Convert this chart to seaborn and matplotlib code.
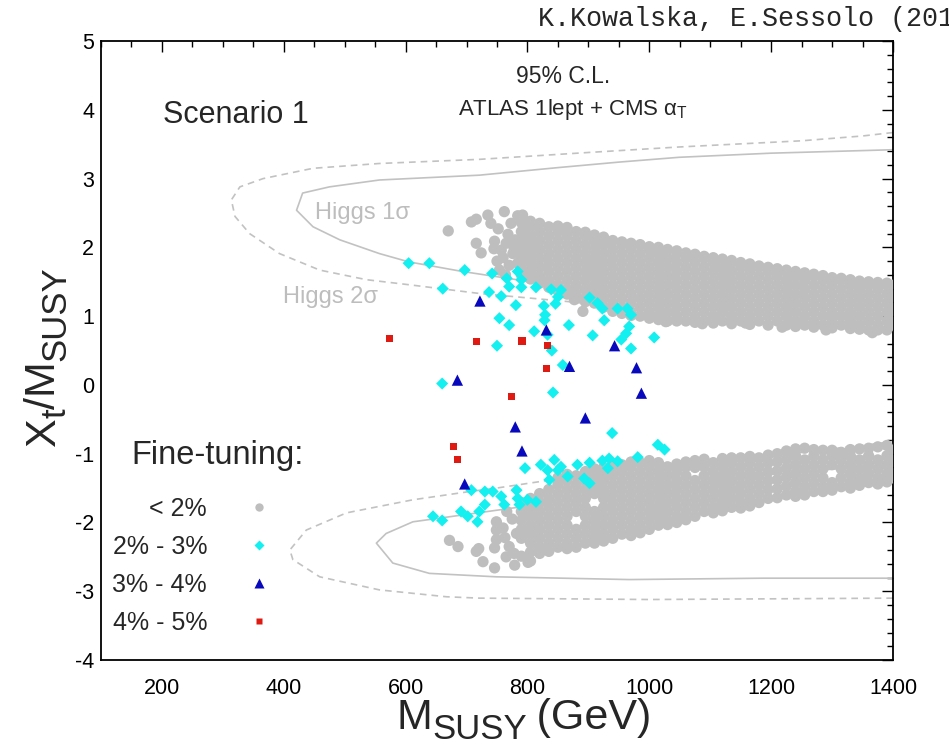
import matplotlib
matplotlib.use("Agg")
import matplotlib.pyplot as plt
import numpy as np
import pandas as pd
import seaborn as sns
from matplotlib.lines import Line2D
from matplotlib.ticker import MultipleLocator

# ---------------------------------------------------------------- data
categories = ["< 2%", "2% - 3%", "3% - 4%", "4% - 5%"]

# fine-tuning < 2 %: dense upper band (x -> list of Xt/M values)
band_upper = {
    790: [2.42, 2.36, 2.23, 2.10, 1.97, 1.84, 1.71, 1.60],
    805: [2.38, 2.30, 2.17, 2.04, 1.91, 1.78, 1.65, 1.54],
    820: [2.35, 2.23, 2.10, 1.97, 1.84, 1.71, 1.58, 1.48],
    835: [2.30, 2.17, 2.04, 1.91, 1.78, 1.65, 1.52, 1.42],
    850: [2.31, 2.23, 2.10, 1.97, 1.84, 1.71, 1.58, 1.45, 1.37],
    865: [2.29, 2.17, 2.04, 1.91, 1.78, 1.65, 1.52, 1.39, 1.32],
    880: [2.23, 2.10, 1.97, 1.84, 1.71, 1.58, 1.45, 1.32, 1.27],
    895: [2.22, 2.17, 2.04, 1.91, 1.78, 1.65, 1.52, 1.39, 1.26, 1.21],
    910: [2.18, 2.10, 1.97, 1.84, 1.71, 1.58, 1.45, 1.32, 1.19],
    925: [2.15, 2.04, 1.91, 1.78, 1.65, 1.52, 1.39, 1.26, 1.13],
    940: [2.10, 1.97, 1.84, 1.71, 1.58, 1.45, 1.32, 1.19, 1.07],
    955: [2.08, 2.04, 1.91, 1.78, 1.65, 1.52, 1.39, 1.26, 1.13, 1.04],
    970: [2.06, 1.97, 1.84, 1.71, 1.58, 1.45, 1.32, 1.19, 1.06, 1.01],
    985: [2.04, 1.91, 1.78, 1.65, 1.52, 1.39, 1.26, 1.13, 1.00],
    1000: [2.01, 1.97, 1.84, 1.71, 1.58, 1.45, 1.32, 1.19, 1.06, 0.97],
    1015: [2.00, 1.91, 1.78, 1.65, 1.52, 1.39, 1.26, 1.13, 1.00, 0.95],
    1030: [1.97, 1.84, 1.71, 1.58, 1.45, 1.32, 1.19, 1.06, 0.93],
    1045: [1.95, 1.91, 1.78, 1.65, 1.52, 1.39, 1.26, 1.13, 1.00, 0.93],
    1060: [1.92, 1.84, 1.71, 1.58, 1.45, 1.32, 1.19, 1.06, 0.93],
    1075: [1.90, 1.78, 1.65, 1.52, 1.39, 1.26, 1.13, 1.00, 0.91],
    1090: [1.87, 1.84, 1.71, 1.58, 1.45, 1.32, 1.19, 1.06, 0.93],
    1105: [1.85, 1.78, 1.65, 1.52, 1.39, 1.26, 1.13, 1.00, 0.90],
    1120: [1.83, 1.71, 1.58, 1.45, 1.32, 1.19, 1.06, 0.93],
    1135: [1.81, 1.78, 1.65, 1.52, 1.39, 1.26, 1.13, 1.00, 0.89],
    1150: [1.78, 1.71, 1.58, 1.45, 1.32, 1.19, 1.06, 0.93],
    1165: [1.76, 1.65, 1.52, 1.39, 1.26, 1.13, 1.00, 0.88],
    1180: [1.73, 1.71, 1.58, 1.45, 1.32, 1.19, 1.06, 0.93],
    1195: [1.71, 1.65, 1.52, 1.39, 1.26, 1.13, 1.00, 0.87],
    1210: [1.69, 1.58, 1.45, 1.32, 1.19, 1.06, 0.93],
    1225: [1.67, 1.65, 1.52, 1.39, 1.26, 1.13, 1.00, 0.87],
    1240: [1.65, 1.58, 1.45, 1.32, 1.19, 1.06, 0.93, 0.85],
    1255: [1.63, 1.52, 1.39, 1.26, 1.13, 1.00, 0.87],
    1270: [1.61, 1.58, 1.45, 1.32, 1.19, 1.06, 0.93, 0.84],
    1285: [1.59, 1.52, 1.39, 1.26, 1.13, 1.00, 0.87],
    1300: [1.56, 1.45, 1.32, 1.19, 1.06, 0.93, 0.83],
    1315: [1.55, 1.52, 1.39, 1.26, 1.13, 1.00, 0.87],
    1330: [1.53, 1.45, 1.32, 1.19, 1.06, 0.93, 0.82],
    1345: [1.51, 1.39, 1.26, 1.13, 1.00, 0.87, 0.81],
    1360: [1.50, 1.45, 1.32, 1.19, 1.06, 0.93, 0.80],
    1375: [1.49, 1.39, 1.26, 1.13, 1.00, 0.87, 0.80],
    1390: [1.48, 1.45, 1.32, 1.19, 1.06, 0.93, 0.80],
    1400: [1.45, 1.39, 1.26, 1.13, 1.00, 0.87],
}

# fine-tuning < 2 %: dense lower band
band_lower = {
    790: [-1.71, -1.84, -1.97, -2.10, -2.23, -2.49],
    805: [-1.65, -1.78, -1.91, -2.04, -2.17, -2.30, -2.43, -2.56],
    820: [-1.58, -1.71, -1.84, -1.97, -2.10, -2.23, -2.36, -2.45],
    835: [-1.52, -1.65, -1.78, -1.91, -2.04, -2.17, -2.30, -2.42],
    850: [-1.35, -1.45, -1.58, -1.71, -1.84, -1.97, -2.10, -2.23, -2.36],
    865: [-1.30, -1.39, -1.52, -1.65, -1.78, -1.91, -2.04, -2.17, -2.30, -2.38],
    880: [-1.32, -1.45, -1.58, -1.71, -1.84, -2.10, -2.23, -2.36],
    895: [-1.26, -1.39, -1.52, -1.65, -1.78, -1.91, -2.04, -2.17, -2.30],
    910: [-1.22, -1.32, -1.45, -1.58, -1.84, -1.97, -2.10, -2.23, -2.30],
    925: [-1.20, -1.30, -1.39, -1.52, -1.65, -1.78, -1.91, -2.04, -2.17, -2.27],
    940: [-1.19, -1.32, -1.45, -1.58, -1.71, -1.84, -1.97, -2.10, -2.23],
    955: [-1.16, -1.26, -1.39, -1.52, -1.65, -1.78, -1.91, -2.04, -2.17],
    970: [-1.12, -1.19, -1.32, -1.45, -1.58, -1.71, -1.84, -1.97, -2.10, -2.19],
    985: [-1.13, -1.26, -1.39, -1.52, -1.65, -1.78, -1.91, -2.04, -2.15],
    1000: [-1.10, -1.19, -1.32, -1.45, -1.58, -1.71, -1.84, -1.97, -2.10],
    1015: [-1.13, -1.26, -1.39, -1.52, -1.65, -1.78, -1.91, -2.04],
    1030: [-1.19, -1.32, -1.45, -1.58, -1.71, -1.84, -1.97, -2.03],
    1045: [-1.15, -1.26, -1.39, -1.52, -1.65, -1.78, -1.91, -2.00],
    1060: [-1.12, -1.19, -1.32, -1.45, -1.58, -1.71, -1.84, -1.96],
    1075: [-1.10, -1.20, -1.39, -1.52, -1.65, -1.78, -1.91],
    1090: [-1.08, -1.19, -1.32, -1.45, -1.58, -1.71, -1.84],
    1105: [-1.13, -1.26, -1.39, -1.52, -1.65, -1.78, -1.86],
    1120: [-1.07, -1.19, -1.32, -1.45, -1.58, -1.71, -1.83],
    1135: [-1.06, -1.13, -1.26, -1.39, -1.52, -1.65, -1.78],
    1150: [-1.06, -1.19, -1.32, -1.45, -1.58, -1.71, -1.79],
    1165: [-1.04, -1.13, -1.26, -1.39, -1.52, -1.65, -1.76],
    1180: [-1.06, -1.19, -1.32, -1.45, -1.58, -1.71],
    1195: [-1.02, -1.13, -1.26, -1.39, -1.52, -1.65],
    1210: [-1.00, -1.12, -1.25, -1.38, -1.51, -1.64],
    1225: [-0.96, -1.08, -1.21, -1.34, -1.47, -1.60],
    1240: [-0.93, -1.03, -1.16, -1.29, -1.42, -1.55, -1.62],
    1255: [-0.92, -1.09, -1.22, -1.35, -1.48, -1.60],
    1270: [-0.94, -1.03, -1.16, -1.29, -1.42, -1.55],
    1285: [-0.95, -1.09, -1.22, -1.35, -1.48, -1.55],
    1300: [-0.95, -1.03, -1.16, -1.42, -1.53],
    1315: [-0.98, -1.09, -1.22, -1.35, -1.48],
    1330: [-0.94, -1.03, -1.16, -1.29, -1.42, -1.50],
    1345: [-0.93, -1.09, -1.22, -1.35, -1.46],
    1360: [-0.92, -1.03, -1.16, -1.29, -1.42],
    1375: [-0.90, -1.09, -1.22, -1.35, -1.44],
    1390: [-0.88, -1.03, -1.16, -1.29, -1.41],
    1400: [-0.95, -1.09, -1.22, -1.35],
}

# fine-tuning < 2 %: scattered points around the bands
sparse_x = [670, 708, 716, 735, 740, 762, 773, 784, 792, 716, 746, 724, 757, 770,
            784, 754, 765, 780, 776, 768, 760, 750, 745, 778, 752, 764, 877, 891,
            1027, 1087, 1158, 1218, 1290, 1366,
            672, 686, 716, 720, 727, 746, 749, 749, 749, 746, 765, 779, 782, 760,
            770, 775, 763, 778, 766, 801]
sparse_y = [2.24, 2.37, 2.41, 2.47, 2.35, 2.52, 2.35, 2.46, 2.47, 2.06, 2.09, 1.92,
            1.96, 1.74, 1.77, 1.67, 2.06, 2.11, 1.91, 2.19, 1.85, 1.80, 1.98, 1.99,
            2.27, 1.60, 1.24, 1.07,
            0.92, 0.89, 0.90, 0.84, 0.80, 0.76,
            -2.26, -2.35, -2.42, -2.38, -2.57, -2.66, -1.99, -2.11, -2.25, -2.37,
            -2.50, -2.62, -2.16, -2.08, -2.35, -1.95, -2.22, -2.45, -1.84, -2.58]

# fine-tuning 2 % - 3 %
ft23_x = [605, 639, 697, 661, 742, 766, 784, 790, 770, 790, 814, 737, 757, 839,
          855, 850, 846, 827, 781, 829, 828, 754, 770, 811, 833, 868, 907, 902,
          915, 923, 948, 964, 970, 926, 967, 962, 954, 970, 1008, 750, 840, 858,
          660, 842, 939, 1014, 1025, 981, 796, 822, 844, 833, 850, 882, 902, 923,
          934, 948, 932, 866, 836, 893, 902, 708, 730, 743, 782, 757, 762, 784,
          800, 814, 787, 730, 721, 691, 702, 645, 660, 718, 855]
ft23_y = [1.77, 1.77, 1.67, 1.40, 1.62, 1.55, 1.65, 1.53, 1.43, 1.42, 1.42, 1.35,
          1.29, 1.39, 1.38, 1.28, 1.18, 1.15, 1.16, 1.02, 0.94, 0.97, 0.87, 0.78,
          0.73, 0.87, 0.72, 1.27, 1.19, 1.11, 1.11, 1.11, 1.02, 0.94, 0.85, 0.75,
          0.66, 0.53, 0.69, 0.57, 0.50, 0.29,
          0.02, -0.11, -0.70, -0.87, -0.94, -1.05, -1.21, -1.16, -1.09, -1.24,
          -1.24, -1.16, -1.13, -1.10, -1.07, -1.11, -1.21, -1.33, -1.38, -1.36,
          -1.43, -1.53, -1.55, -1.55, -1.53, -1.62, -1.74, -1.65, -1.67, -1.70,
          -1.74, -1.74, -1.84, -1.84, -1.91, -1.91, -1.97, -1.99, -1.19]

# fine-tuning 3 % - 4 %
ft34_x = [722, 831, 943, 869, 979, 685, 987, 895, 780, 791, 697]
ft34_y = [1.22, 0.80, 0.57, 0.27, 0.25, 0.07, -0.12, -0.48, -0.61, -0.96, -1.44]

# fine-tuning 4 % - 5 %
ft45_x = [574, 717, 791, 833, 831, 774, 679, 685]
ft45_y = [0.68, 0.63, 0.64, 0.57, 0.24, -0.17, -0.90, -1.08]

# Higgs-mass contours (upper and lower lobes)
h1_upper_x = [1400, 1200, 1049, 950, 850, 721, 557, 475, 431, 421, 448, 492, 557,
              605, 693, 790, 900, 1050, 1200, 1400]
h1_upper_y = [3.42, 3.37, 3.31, 3.24, 3.16, 3.05, 2.98, 2.88, 2.79, 2.54, 2.30,
              2.11, 1.91, 1.79, 1.65, 1.52, 1.35, 1.18, 1.05, 0.95]
h2_upper_x = [1400, 1350, 1250, 1049, 900, 721, 557, 448, 366, 328, 314, 320, 344,
              393, 459, 536, 612, 721, 869, 1000, 1200, 1400]
h2_upper_y = [3.67, 3.62, 3.55, 3.46, 3.38, 3.28, 3.22, 3.15, 3.00, 2.88, 2.69,
              2.45, 2.20, 1.91, 1.67, 1.53, 1.45, 1.33, 1.21, 1.08, 0.95, 0.88]
h1_lower_x = [1400, 1186, 967, 749, 639, 579, 552, 568, 612, 694, 800, 1000, 1200,
              1400]
h1_lower_y = [-2.81, -2.81, -2.83, -2.79, -2.74, -2.59, -2.30, -2.16, -1.99, -1.89,
              -1.76, -1.50, -1.30, -1.15]
h2_lower_x = [1400, 1000, 721, 667, 557, 459, 415, 410, 437, 503, 612, 705, 749,
              900, 1033, 1082, 1213, 1377, 1400]
h2_lower_y = [-3.10, -3.12, -3.10, -3.08, -2.98, -2.79, -2.54, -2.40, -2.11, -1.86,
              -1.67, -1.55, -1.50, -1.30, -1.19, -1.14, -1.02, -0.85, -0.82]

x_ticks = [200, 400, 600, 800, 1000, 1200, 1400]
y_ticks = [-4, -3, -2, -1, 0, 1, 2, 3, 4, 5]

# ---------------------------------------------------------------- table
rows = []
for band in (band_upper, band_lower):
    for xv, ys in band.items():
        rows += [(xv, yv, categories[0]) for yv in ys]
rows += [(xv, yv, categories[0]) for xv, yv in zip(sparse_x, sparse_y)]
rows += [(xv, yv, categories[1]) for xv, yv in zip(ft23_x, ft23_y)]
rows += [(xv, yv, categories[2]) for xv, yv in zip(ft34_x, ft34_y)]
rows += [(xv, yv, categories[3]) for xv, yv in zip(ft45_x, ft45_y)]
points = pd.DataFrame(rows, columns=["m_susy", "xt_over_m", "fine_tuning"])

# ---------------------------------------------------------------- style
sns.set_theme(style="white")
plt.rcParams["font.family"] = ["Liberation Sans", "DejaVu Sans"]
plt.rcParams["mathtext.fontset"] = "custom"
plt.rcParams["mathtext.rm"] = "Liberation Sans"
plt.rcParams["mathtext.it"] = "Liberation Sans:italic"
plt.rcParams["mathtext.bf"] = "Liberation Sans:bold"
plt.rcParams["mathtext.sf"] = "Liberation Sans"
plt.rcParams["axes.unicode_minus"] = False

colors = {"< 2%": "#bebebe", "2% - 3%": "#14f0f0", "3% - 4%": "#0808bc",
          "4% - 5%": "#de1a12"}
markers = {"< 2%": "o", "2% - 3%": "D", "3% - 4%": "^", "4% - 5%": "s"}
sizes = {"< 2%": 66, "2% - 3%": 38, "3% - 4%": 66, "4% - 5%": 27}
contour_color = "#c2c2c2"

fig = plt.figure(figsize=(9.49, 7.48), dpi=100)
ax = fig.add_axes([0.1064, 0.1176, 0.8346, 0.8275])

# contours
for cx, cy, ls in [(h1_upper_x, h1_upper_y, "-"), (h2_upper_x, h2_upper_y, (0, (4, 3))),
                   (h1_lower_x, h1_lower_y, "-"), (h2_lower_x, h2_lower_y, (0, (4, 3)))]:
    sns.lineplot(x=cx, y=cy, sort=False, estimator=None, color=contour_color,
                 linewidth=1.2, linestyle=ls, ax=ax, zorder=2)

# scan points
sns.scatterplot(data=points, x="m_susy", y="xt_over_m", hue="fine_tuning",
                style="fine_tuning", size="fine_tuning", hue_order=categories,
                style_order=categories, size_order=categories, palette=colors,
                markers=markers, sizes=sizes, linewidth=0, legend=False,
                ax=ax, zorder=3)

ax.set_xlim(100, 1400)
ax.set_ylim(-4, 5)
ax.set_xticks(x_ticks)
ax.set_yticks(y_ticks)
ax.xaxis.set_minor_locator(MultipleLocator(50))
ax.yaxis.set_minor_locator(MultipleLocator(0.2))
ax.tick_params(which="both", direction="in", top=True, right=True, color="black",
               width=1.0, labelsize=15.5, labelcolor="black")
ax.tick_params(which="major", length=8)
ax.tick_params(which="minor", length=4)
ax.tick_params(axis="x", pad=13)
ax.tick_params(axis="y", pad=5)
for sp in ax.spines.values():
    sp.set_color("black")
    sp.set_linewidth(1.3)
ax.set_xlabel("")
ax.set_ylabel("")

# axis titles with large subscripts, laid out run by run
W, H = fig.bbox.width, fig.bbox.height
renderer = fig.canvas.get_renderer()


def text_runs(runs, x_px, y_px, vertical=False):
    pos = 0.0
    for txt, size, drop in runs:
        if vertical:
            t = fig.text((x_px + drop) / W, 1 - (y_px - pos) / H, txt, fontsize=size,
                         ha="left", va="baseline", rotation=90,
                         rotation_mode="anchor")
            pos += t.get_window_extent(renderer).height
        else:
            t = fig.text((x_px + pos) / W, 1 - (y_px + drop) / H, txt, fontsize=size,
                         ha="left", va="baseline")
            pos += t.get_window_extent(renderer).width


main_size, sub_size, sub_drop = 31, 25, 10
text_runs([("M", main_size, 0), ("SUSY", sub_size, sub_drop),
           ("\u2009(GeV)", main_size, 0)], 397, 729)
text_runs([("X", main_size, 0), ("t", sub_size, sub_drop), ("/M", main_size, 0),
           ("SUSY", sub_size, sub_drop)], 55, 447, vertical=True)

# annotations
ax.text(0.078, 0.880, "Scenario 1", transform=ax.transAxes, fontsize=22,
        ha="left", va="center")
ax.text(0.583, 0.943, "95% C.L.", transform=ax.transAxes, fontsize=16.5,
        ha="center", va="center")
ax.text(0.596, 0.889, r"ATLAS 1lept + CMS α$_{\mathrm{T}}$", transform=ax.transAxes,
        fontsize=16, ha="center", va="center")
ax.text(0.270, 0.722, "Higgs 1σ", transform=ax.transAxes, fontsize=17,
        ha="left", va="center", color="#bdbdbd")
ax.text(0.230, 0.586, "Higgs 2σ", transform=ax.transAxes, fontsize=17,
        ha="left", va="center", color="#bdbdbd")
fig.text(538 / W, 1 - 26 / H, "K.Kowalska, E.Sessolo (2013)",
         family=["Liberation Mono", "DejaVu Sans Mono"], fontsize=19.3,
         ha="left", va="baseline")

# legend
ax.text(0.039, 0.331, "Fine-tuning:", transform=ax.transAxes, fontsize=23.5,
        ha="left", va="center")
handles = [
    Line2D([], [], ls="none", marker="o", ms=6, mfc=colors["< 2%"], mec="none"),
    Line2D([], [], ls="none", marker="D", ms=5, mfc=colors["2% - 3%"], mec="none"),
    Line2D([], [], ls="none", marker="^", ms=6.5, mfc=colors["3% - 4%"], mec="none"),
    Line2D([], [], ls="none", marker="s", ms=4.3, mfc=colors["4% - 5%"], mec="none"),
]
ax.legend(handles, categories, markerfirst=False, frameon=False, loc="upper left",
          bbox_to_anchor=(0.0145, 0.263), fontsize=18, handletextpad=1.78,
          labelspacing=0.56, handlelength=0.6, borderpad=0, borderaxespad=0)

fig.savefig("out.png", dpi=100)
